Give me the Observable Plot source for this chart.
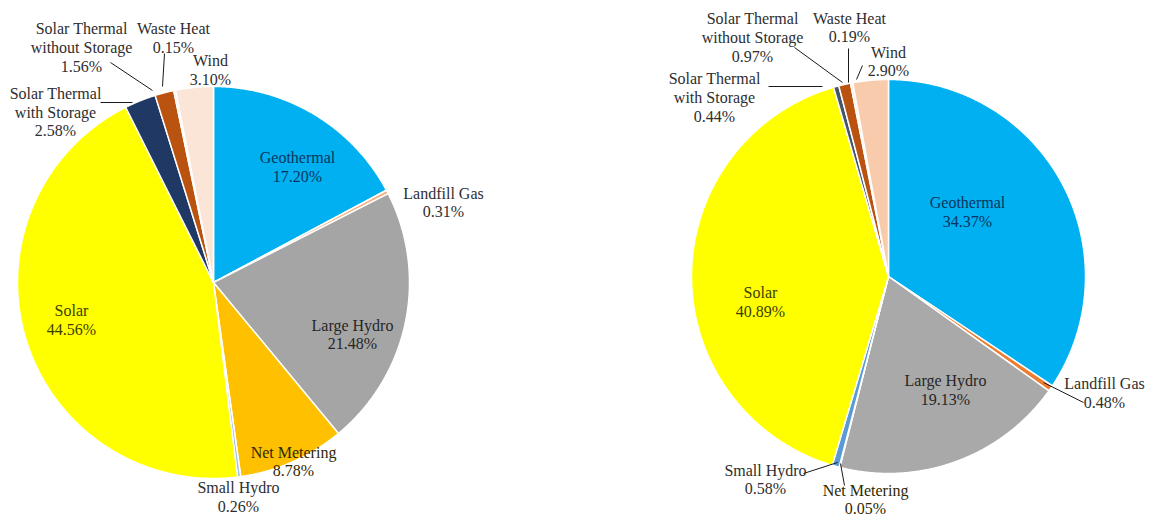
<!DOCTYPE html>
<html><head><meta charset="utf-8">
<script src="https://cdn.jsdelivr.net/npm/d3@7"></script>
<script src="https://cdn.jsdelivr.net/npm/@observablehq/plot@0.6"></script>
<style>body{margin:0;background:#fff}</style>
</head><body><div id="chart"></div>
<script>
// ---- data ----
const categories = ["Geothermal","Landfill Gas","Large Hydro","Net Metering","Small Hydro","Solar","Solar Thermal with Storage","Solar Thermal without Storage","Waste Heat","Wind"];
const sharesLeft  = [17.20, 0.31, 21.48, 8.78, 0.26, 44.56, 2.58, 1.56, 0.15, 3.10];
const sharesRight = [34.37, 0.48, 19.13, 0.05, 0.58, 40.89, 0.44, 0.97, 0.19, 2.90];

// ---- styles ----
const colorsLeft  = ["#00B0F0","#F4B183","#A5A5A5","#FFC000","#9DC3E6","#FFFF00","#203864","#B9530F","#F8CBAD","#FBE5D6"];
const colorsRight = ["#00B0F0","#ED7D31","#A9A9A9","#FFC000","#5B9BD5","#FFFF00","#44546A","#B9530F","#FBE5D6","#F8CBAD"];
const textColors  = ["#0a3560","#2e2e2e","#262626","#2f2700","#2e2e2e","#3d3d00","#2e2e2e","#2e2e2e","#2e2e2e","#2e2e2e"];

// ---- layout ----
const W = 1150, H = 517;
const pies = [
  {key:"L", values: sharesLeft, colors: colorsLeft, cx: 213, cy: 282, r: 196,
   labelOffsets: [[84,-116],[230,-80.5],[139,51.5],[80,178.5],[25,214],[-142,37],[-158,-171],[-132,-235.5],[-40,-245],[-3,-213]],
   leaders: [[-113,-180,-81,-180],[-103,-220,-61,-192],[-49,-229,-51,-196]]},
  {key:"R", values: sharesRight, colors: colorsRight, cx: 888, cy: 276, r: 197,
   labelOffsets: [[79,-65],[216,116],[57,113],[-23,222.5],[-123,202.5],[-128,25],[-174,-179.5],[-136,-239.5],[-39,-249.5],[0,-215.5]],
   leaders: [[-120,-190,-66,-190],[-94,-229,-46,-194],[-40,-228,-40,-194],[-26,-211,-32,-197],[155,106,195,126],[-85,197,-51,186],[-48,187,-44,209]]}
];

const wedgeRows = [], labelRows = [], leaderRows = [];
for (const p of pies) {
  const arcs = d3.pie().sort(null).value(d => d)(p.values);
  arcs.forEach((a, i) => {
    const id = p.key + i, fill = p.colors[i];
    const n = Math.max(2, Math.ceil((a.endAngle - a.startAngle) / 0.005));
    wedgeRows.push({id, x: p.cx, y: p.cy, fill});
    for (let j = 0; j <= n; j++) {
      const t = a.startAngle + (a.endAngle - a.startAngle) * j / n;
      wedgeRows.push({id, x: p.cx + p.r * Math.sin(t), y: p.cy - p.r * Math.cos(t), fill});
    }
    wedgeRows.push({id, x: p.cx, y: p.cy, fill});
    const [dx, dy] = p.labelOffsets[i];
    labelRows.push({
      x: p.cx + dx, y: p.cy + dy,
      text: categories[i].replace("Solar Thermal ", "Solar Thermal\n") + "\n" + p.values[i].toFixed(2) + "%",
      fill: textColors[i]
    });
  });
  p.leaders.forEach(([x1, y1, x2, y2]) => leaderRows.push({x1: p.cx + x1, y1: p.cy + y1, x2: p.cx + x2, y2: p.cy + y2}));
}

const chart = Plot.plot({
  width: W, height: H, margin: 0,
  x: {domain: [0, W], range: [0, W], axis: null},
  y: {domain: [0, H], range: [0, H], axis: null},
  color: {type: "identity"},
  style: {background: "white"},
  marks: [
    Plot.line(wedgeRows, {x: "x", y: "y", z: "id", fill: "fill", stroke: "white", strokeWidth: 1.5, curve: "linear"}),
    Plot.link(leaderRows, {x1: "x1", y1: "y1", x2: "x2", y2: "y2", stroke: "#1a1a1a", strokeWidth: 1}),
    Plot.text(labelRows, {x: "x", y: "y", text: "text", fill: "fill", fontSize: 16, lineHeight: 1.17, fontFamily: "Liberation Serif, serif"})
  ]
});
document.getElementById("chart").append(chart);
</script>
</body></html>
